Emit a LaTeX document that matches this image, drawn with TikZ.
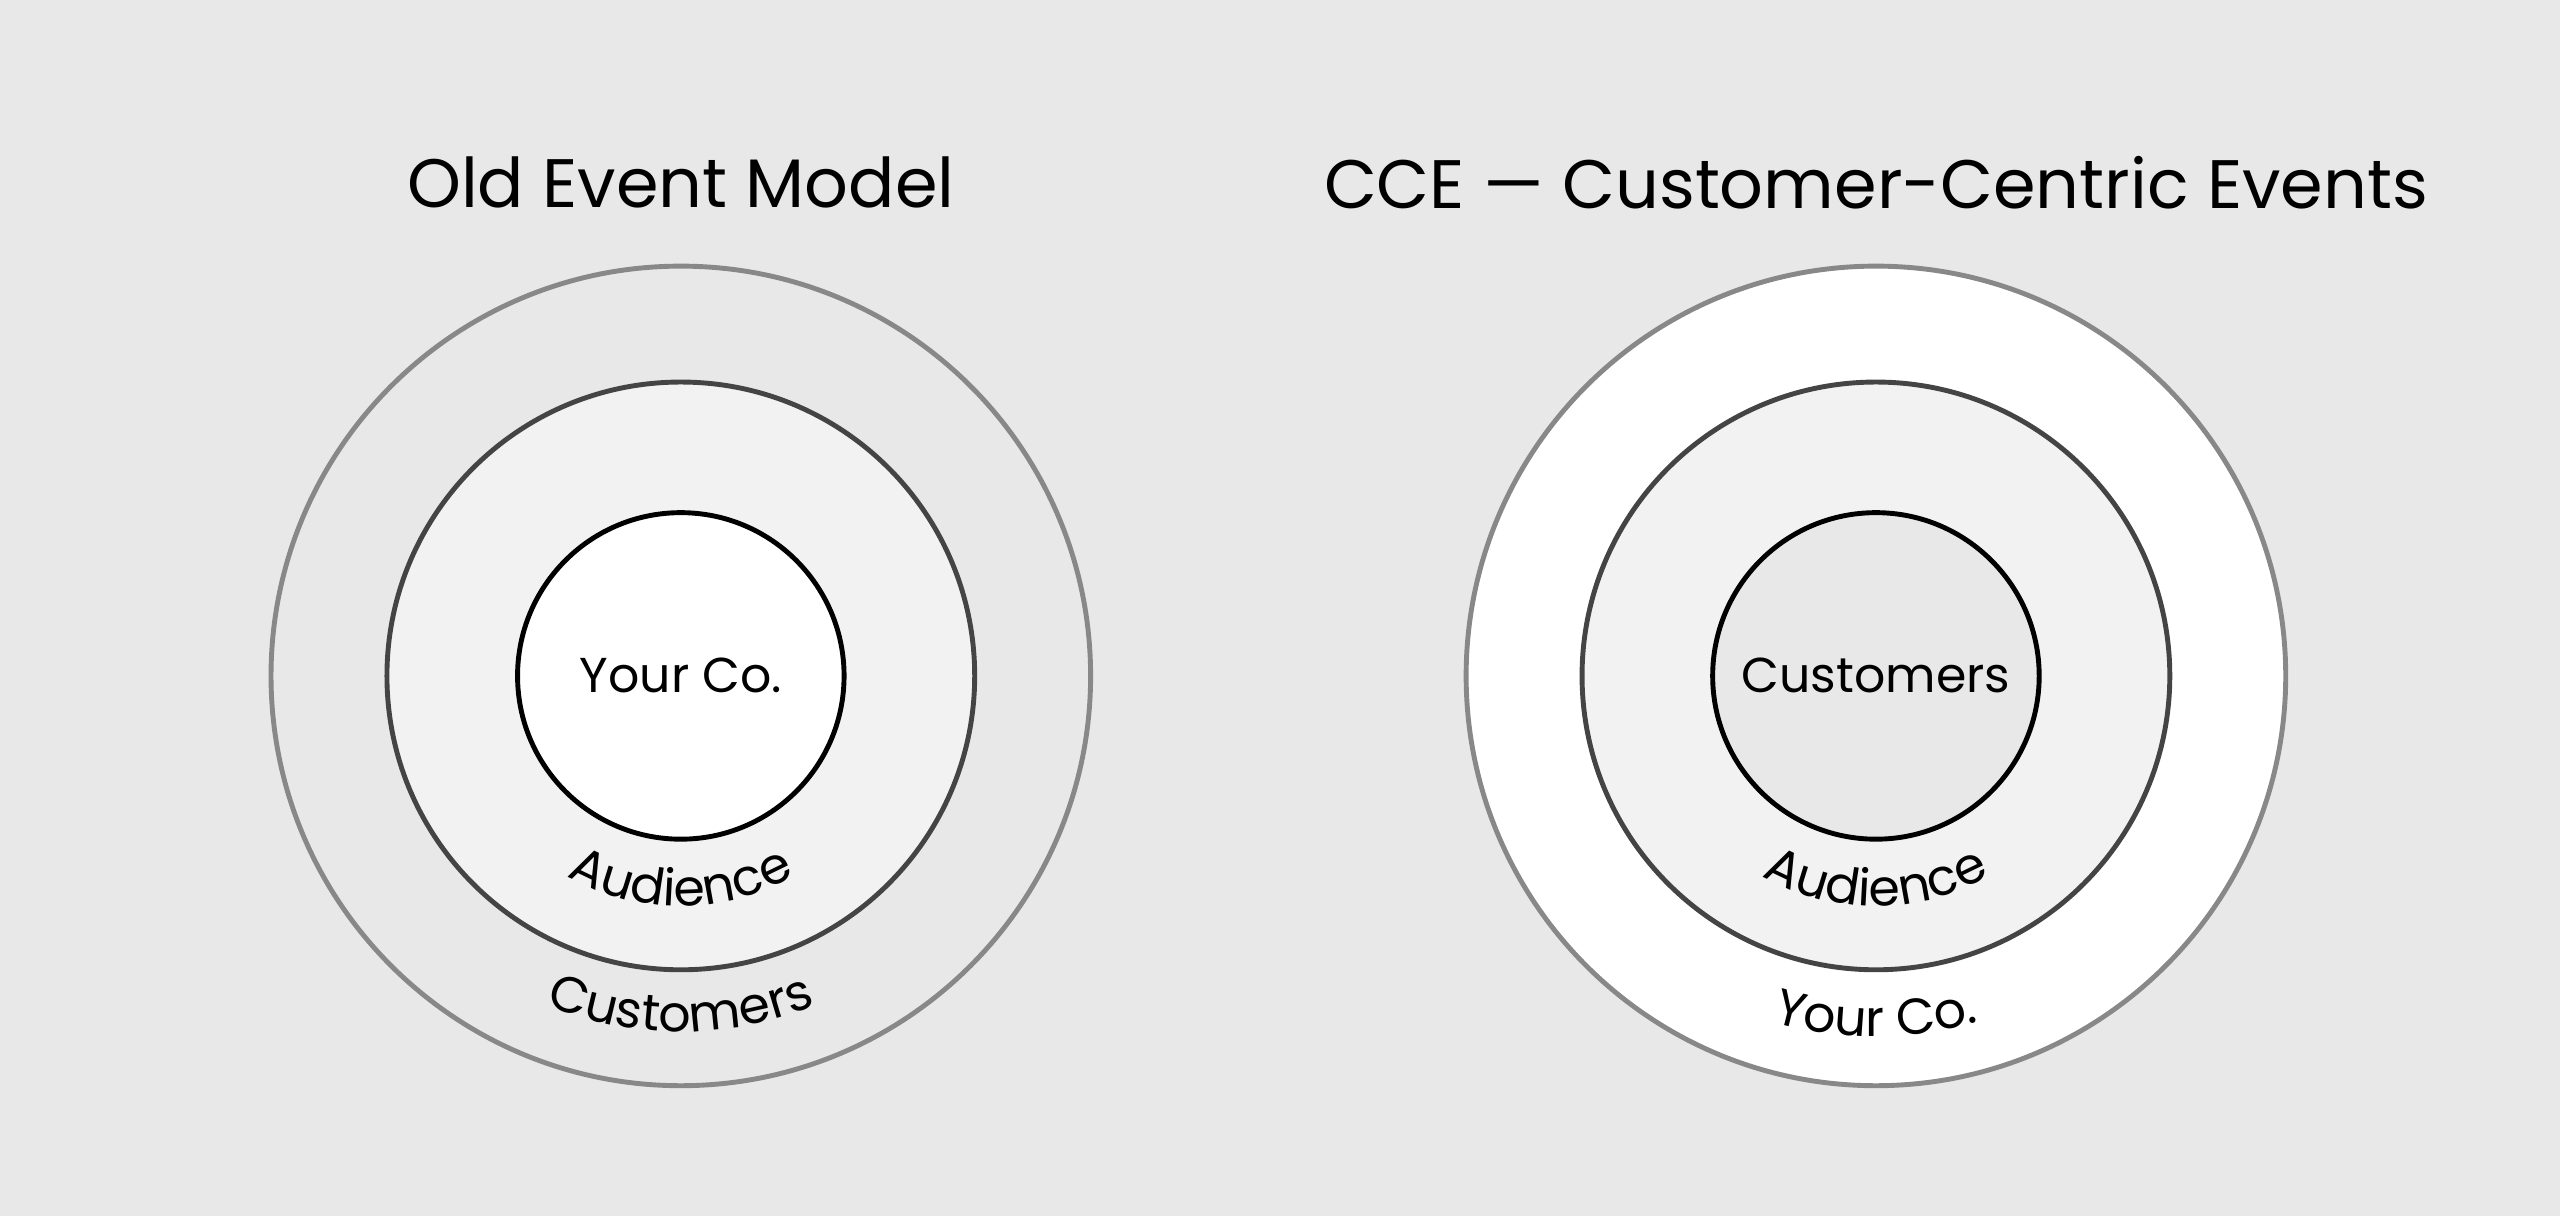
\documentclass[tikz,border=0pt]{standalone}
\usepackage{fontspec}
\setmainfont{Poppins}
\usetikzlibrary{decorations.text}
\definecolor{bg}{HTML}{E8E8E8}
\definecolor{mid}{HTML}{F2F2F2}
\definecolor{ringA}{HTML}{888888}
\definecolor{ringB}{HTML}{444444}
\begin{document}
\begin{tikzpicture}[x=1pt,y=1pt,
  ring/.style={circle,draw,line width=3pt,inner sep=0pt},
  outer/.style={ring,draw=ringA,minimum size=502pt},
  middle/.style={ring,draw=ringB,fill=mid,minimum size=360pt},
  inner/.style={ring,draw=black,minimum size=200pt,font=\fontsize{30}{33}\selectfont},
  title/.style={font=\fontsize{42}{46}\selectfont}]
\fill[bg] (0,0) rectangle (1568,745);
\useasboundingbox (0,0) rectangle (1568,745);
% left
\node[outer,fill=bg] (lo) at (417,331) {};
\node[middle] (lm) at (417,331) {};
\node[inner,fill=white] (li) at (417,331) {Your Co.};
\node[title] (lt) at (417,633) {Old Event Model};
\path[decorate,decoration={text along path,text align=center,text={|\fontsize{31}{33}\selectfont|Audience}}]
  (lo.center) ++(230:141) arc (230:310:141);
\path[decorate,decoration={text along path,text align=center,text={|\fontsize{31}{33}\selectfont|Customers}}]
  (lo.center) ++(235:218) arc (235:305:218);
% right
\node[outer,fill=white] (ro) at (1149,331) {};
\node[middle] (rm) at (1149,331) {};
\node[inner,fill=bg] (ri) at (1149,331) {Customers};
\node[title] (rt) at (1149,633) {CCE — Customer-Centric Events};
\path[decorate,decoration={text along path,text align=center,text={|\fontsize{31}{33}\selectfont|Audience}}]
  (ro.center) ++(230:141) arc (230:310:141);
\path[decorate,decoration={text along path,text align=center,text={|\fontsize{31}{33}\selectfont|Your Co.}}]
  (ro.center) ++(235:221) arc (235:305:221);
\end{tikzpicture}
\end{document}
